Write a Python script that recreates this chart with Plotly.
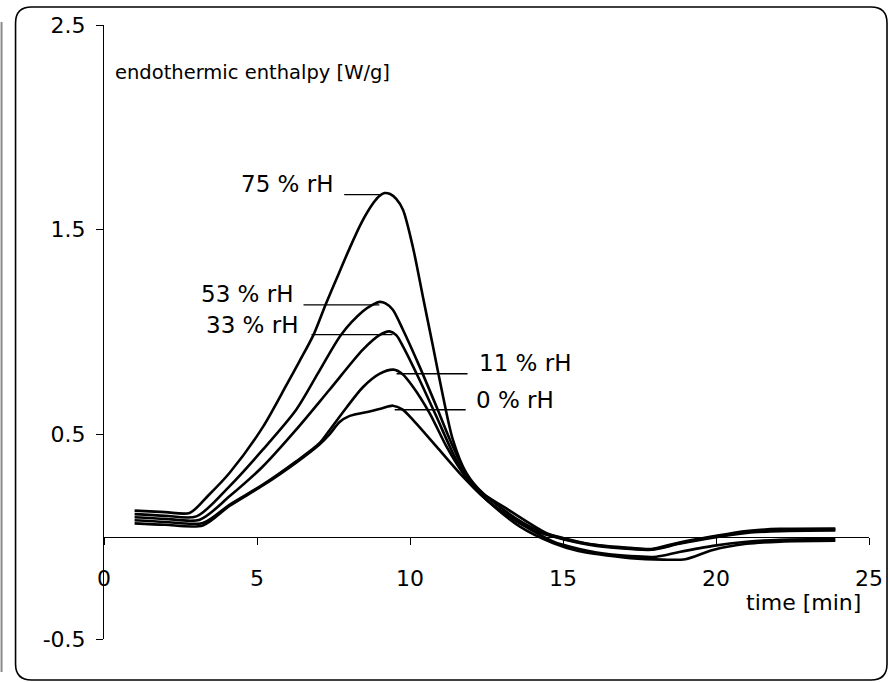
import plotly.graph_objects as go

# ---------------- data ----------------
series_names = ["75 % rH", "53 % rH", "33 % rH", "11 % rH", "0 % rH"]

x_75 = [1.0, 2.0, 2.8, 3.4, 4.1, 5.19, 5.96, 6.4, 6.85, 7.24, 7.6, 8.0, 8.4, 8.8, 9.0, 9.17, 9.35, 9.55, 9.77, 10.09, 10.42, 10.75, 11.08, 11.4, 11.84, 12.4, 13.04, 14.45, 15.0, 16.0, 17.2, 17.9, 18.8, 19.9, 21.0, 22.1, 23.9]
y_75 = [0.127, 0.12, 0.116, 0.2, 0.311, 0.535, 0.74, 0.86, 0.987, 1.133, 1.26, 1.4, 1.53, 1.63, 1.665, 1.679, 1.674, 1.65, 1.597, 1.418, 1.174, 0.93, 0.685, 0.474, 0.311, 0.21, 0.148, 0.018, -0.006, -0.039, -0.055, -0.06, -0.028, 0.002, 0.028, 0.038, 0.04]

x_53 = [1.0, 2.0, 3.02, 4.1, 5.19, 6.28, 7.0, 7.75, 8.46, 8.8, 9.0, 9.2, 9.44, 9.77, 10.31, 10.86, 11.4, 11.95, 13.05, 14.13, 15.0, 16.1, 17.2, 17.9, 18.8, 19.9, 21.0, 22.1, 23.9]
y_53 = [0.11, 0.102, 0.099, 0.246, 0.425, 0.62, 0.8, 0.987, 1.101, 1.135, 1.147, 1.14, 1.109, 1.011, 0.832, 0.637, 0.441, 0.278, 0.132, 0.034, -0.01, -0.042, -0.058, -0.062, -0.032, -0.002, 0.022, 0.032, 0.035]

x_33 = [1.0, 2.0, 3.13, 4.1, 5.19, 6.28, 7.37, 8.46, 9.0, 9.33, 9.55, 9.77, 10.31, 10.86, 11.4, 11.95, 13.05, 14.13, 15.0, 16.1, 17.2, 17.9, 18.8, 19.9, 21.0, 22.1, 23.9]
y_33 = [0.095, 0.087, 0.083, 0.197, 0.343, 0.523, 0.718, 0.914, 0.985, 1.003, 0.985, 0.93, 0.767, 0.588, 0.409, 0.262, 0.116, 0.026, -0.012, -0.045, -0.06, -0.064, -0.035, -0.005, 0.018, 0.027, 0.03]

x_11 = [1.0, 2.0, 3.23, 4.1, 5.19, 6.28, 7.05, 7.37, 7.92, 8.46, 9.0, 9.46, 9.75, 10.09, 10.64, 11.19, 11.73, 12.49, 13.58, 14.67, 15.0, 16.1, 17.2, 18.05, 18.8, 19.9, 21.0, 22.1, 23.9]
y_11 = [0.08, 0.072, 0.067, 0.156, 0.254, 0.368, 0.458, 0.52, 0.63, 0.73, 0.795, 0.816, 0.795, 0.734, 0.604, 0.441, 0.311, 0.181, 0.067, -0.023, -0.04, -0.078, -0.095, -0.098, -0.075, -0.045, -0.025, -0.015, -0.012]

x_0 = [1.0, 2.0, 3.23, 4.1, 5.19, 6.28, 7.05, 7.37, 7.7, 8.03, 8.68, 9.1, 9.44, 9.75, 10.09, 10.86, 11.62, 12.49, 13.58, 14.67, 15.5, 16.1, 17.2, 18.27, 19.0, 19.9, 21.0, 22.1, 23.9]
y_0 = [0.065, 0.058, 0.055, 0.15, 0.25, 0.362, 0.452, 0.5, 0.56, 0.59, 0.612, 0.628, 0.64, 0.622, 0.572, 0.441, 0.311, 0.181, 0.05, -0.031, -0.07, -0.085, -0.105, -0.112, -0.11, -0.065, -0.035, -0.024, -0.02]

# leader lines (x start, x end, y) and label anchor positions
leader_x0 = [7.85, 6.52, 6.78, 9.56, 9.5]
leader_x1 = [9.1, 9.0, 9.43, 11.88, 11.82]
leader_y = [1.671, 1.133, 0.987, 0.796, 0.62]
label_x = [7.57, 6.26, 6.45, 12.18, 12.08]
label_y = [1.724, 1.185, 1.036, 0.85, 0.669]
label_anchor = ["right", "right", "right", "left", "left"]

x_ticks = [0, 5, 10, 15, 20, 25]
y_ticks = [-0.5, 0.5, 1.5, 2.5]
y_ticktext = ["-0.5", "0.5", "1.5", "2.5"]

x_title = "time [min]"
y_title = "endothermic enthalpy [W/g]"

# ---------------- figure ----------------
W, H = 890, 682
L, R, T, B = 104.4, 869.0, 25.0, 639.0
FONT = "DejaVu Sans"


def px2paper(px, py):
    return (px - L) / (R - L), (B - py) / (B - T)


fig = go.Figure()
all_x = [x_75, x_53, x_33, x_11, x_0]
all_y = [y_75, y_53, y_33, y_11, y_0]
for name, xs, ys in zip(series_names, all_x, all_y):
    fig.add_trace(go.Scatter(x=xs, y=ys, mode="lines", name=name,
                             line=dict(color="black", width=2.6, shape="spline", smoothing=0.8),
                             showlegend=False, hoverinfo="skip"))

for x0, x1, yy in zip(leader_x0, leader_x1, leader_y):
    fig.add_shape(type="line", xref="x", yref="y", x0=x0, x1=x1, y0=yy, y1=yy,
                  line=dict(color="black", width=1.3))

for name, lx, ly, anc in zip(series_names, label_x, label_y, label_anchor):
    fig.add_annotation(x=lx, y=ly, xref="x", yref="y", text=name, showarrow=False,
                       xanchor=anc, yanchor="middle", font=dict(family=FONT, size=23, color="black"))

fig.add_annotation(x=24.82, y=-0.322, xref="x", yref="y", text=x_title, showarrow=False,
                   xanchor="right", yanchor="middle", font=dict(family=FONT, size=22, color="black"))
fig.add_annotation(x=0.28, y=2.267, xref="x", yref="y", text=y_title, showarrow=False,
                   xanchor="left", yanchor="middle", font=dict(family=FONT, size=19.5, color="black"))

# rounded frame
fl, fr, ft, fb, rad = 16, 887, 7, 680, 16


def P(px, py):
    x, y = px2paper(px, py)
    return f"{x:.5f},{y:.5f}"


path = (f"M {P(fl, ft+rad)} Q {P(fl, ft)} {P(fl+rad, ft)} L {P(fr-rad, ft)} "
        f"Q {P(fr, ft)} {P(fr, ft+rad)} L {P(fr, fb-rad)} Q {P(fr, fb)} {P(fr-rad, fb)} "
        f"L {P(fl+rad, fb)} Q {P(fl, fb)} {P(fl, fb-rad)} Z")
fig.add_shape(type="path", xref="paper", yref="paper", path=path,
              line=dict(color="black", width=1.6), layer="above")
gx0, gy0 = px2paper(2, 22)
gx1, gy1 = px2paper(2, 672)
fig.add_shape(type="line", xref="paper", yref="paper", x0=gx0, y0=gy0, x1=gx1, y1=gy1,
              line=dict(color="#8a8a8a", width=2))

fig.update_layout(
    width=W, height=H,
    margin=dict(l=L, r=W - R, t=T, b=H - B, autoexpand=False),
    paper_bgcolor="white", plot_bgcolor="white",
    font=dict(family=FONT, size=22, color="black"),
    xaxis=dict(range=[0, 25], tickvals=x_ticks, ticks="outside", ticklen=7, tickcolor="black",
               showline=True, linecolor="black", linewidth=1, showgrid=False, zeroline=False,
               anchor="free", position=(0 - (-0.5)) / 3.0, ticklabelstandoff=15,
               automargin=False, tickfont=dict(family=FONT, size=22, color="black")),
    yaxis=dict(range=[-0.5, 2.5], tickvals=y_ticks, ticktext=y_ticktext, ticks="outside",
               ticklen=7, tickcolor="black", showline=True, linecolor="black", linewidth=1,
               showgrid=False, zeroline=False, ticklabelstandoff=6, automargin=False,
               tickfont=dict(family=FONT, size=22, color="black")),
)

fig.write_html("out.html", config={"displayModeBar": False},
               post_script="document.body.style.margin='0';document.body.style.overflow='hidden';")
